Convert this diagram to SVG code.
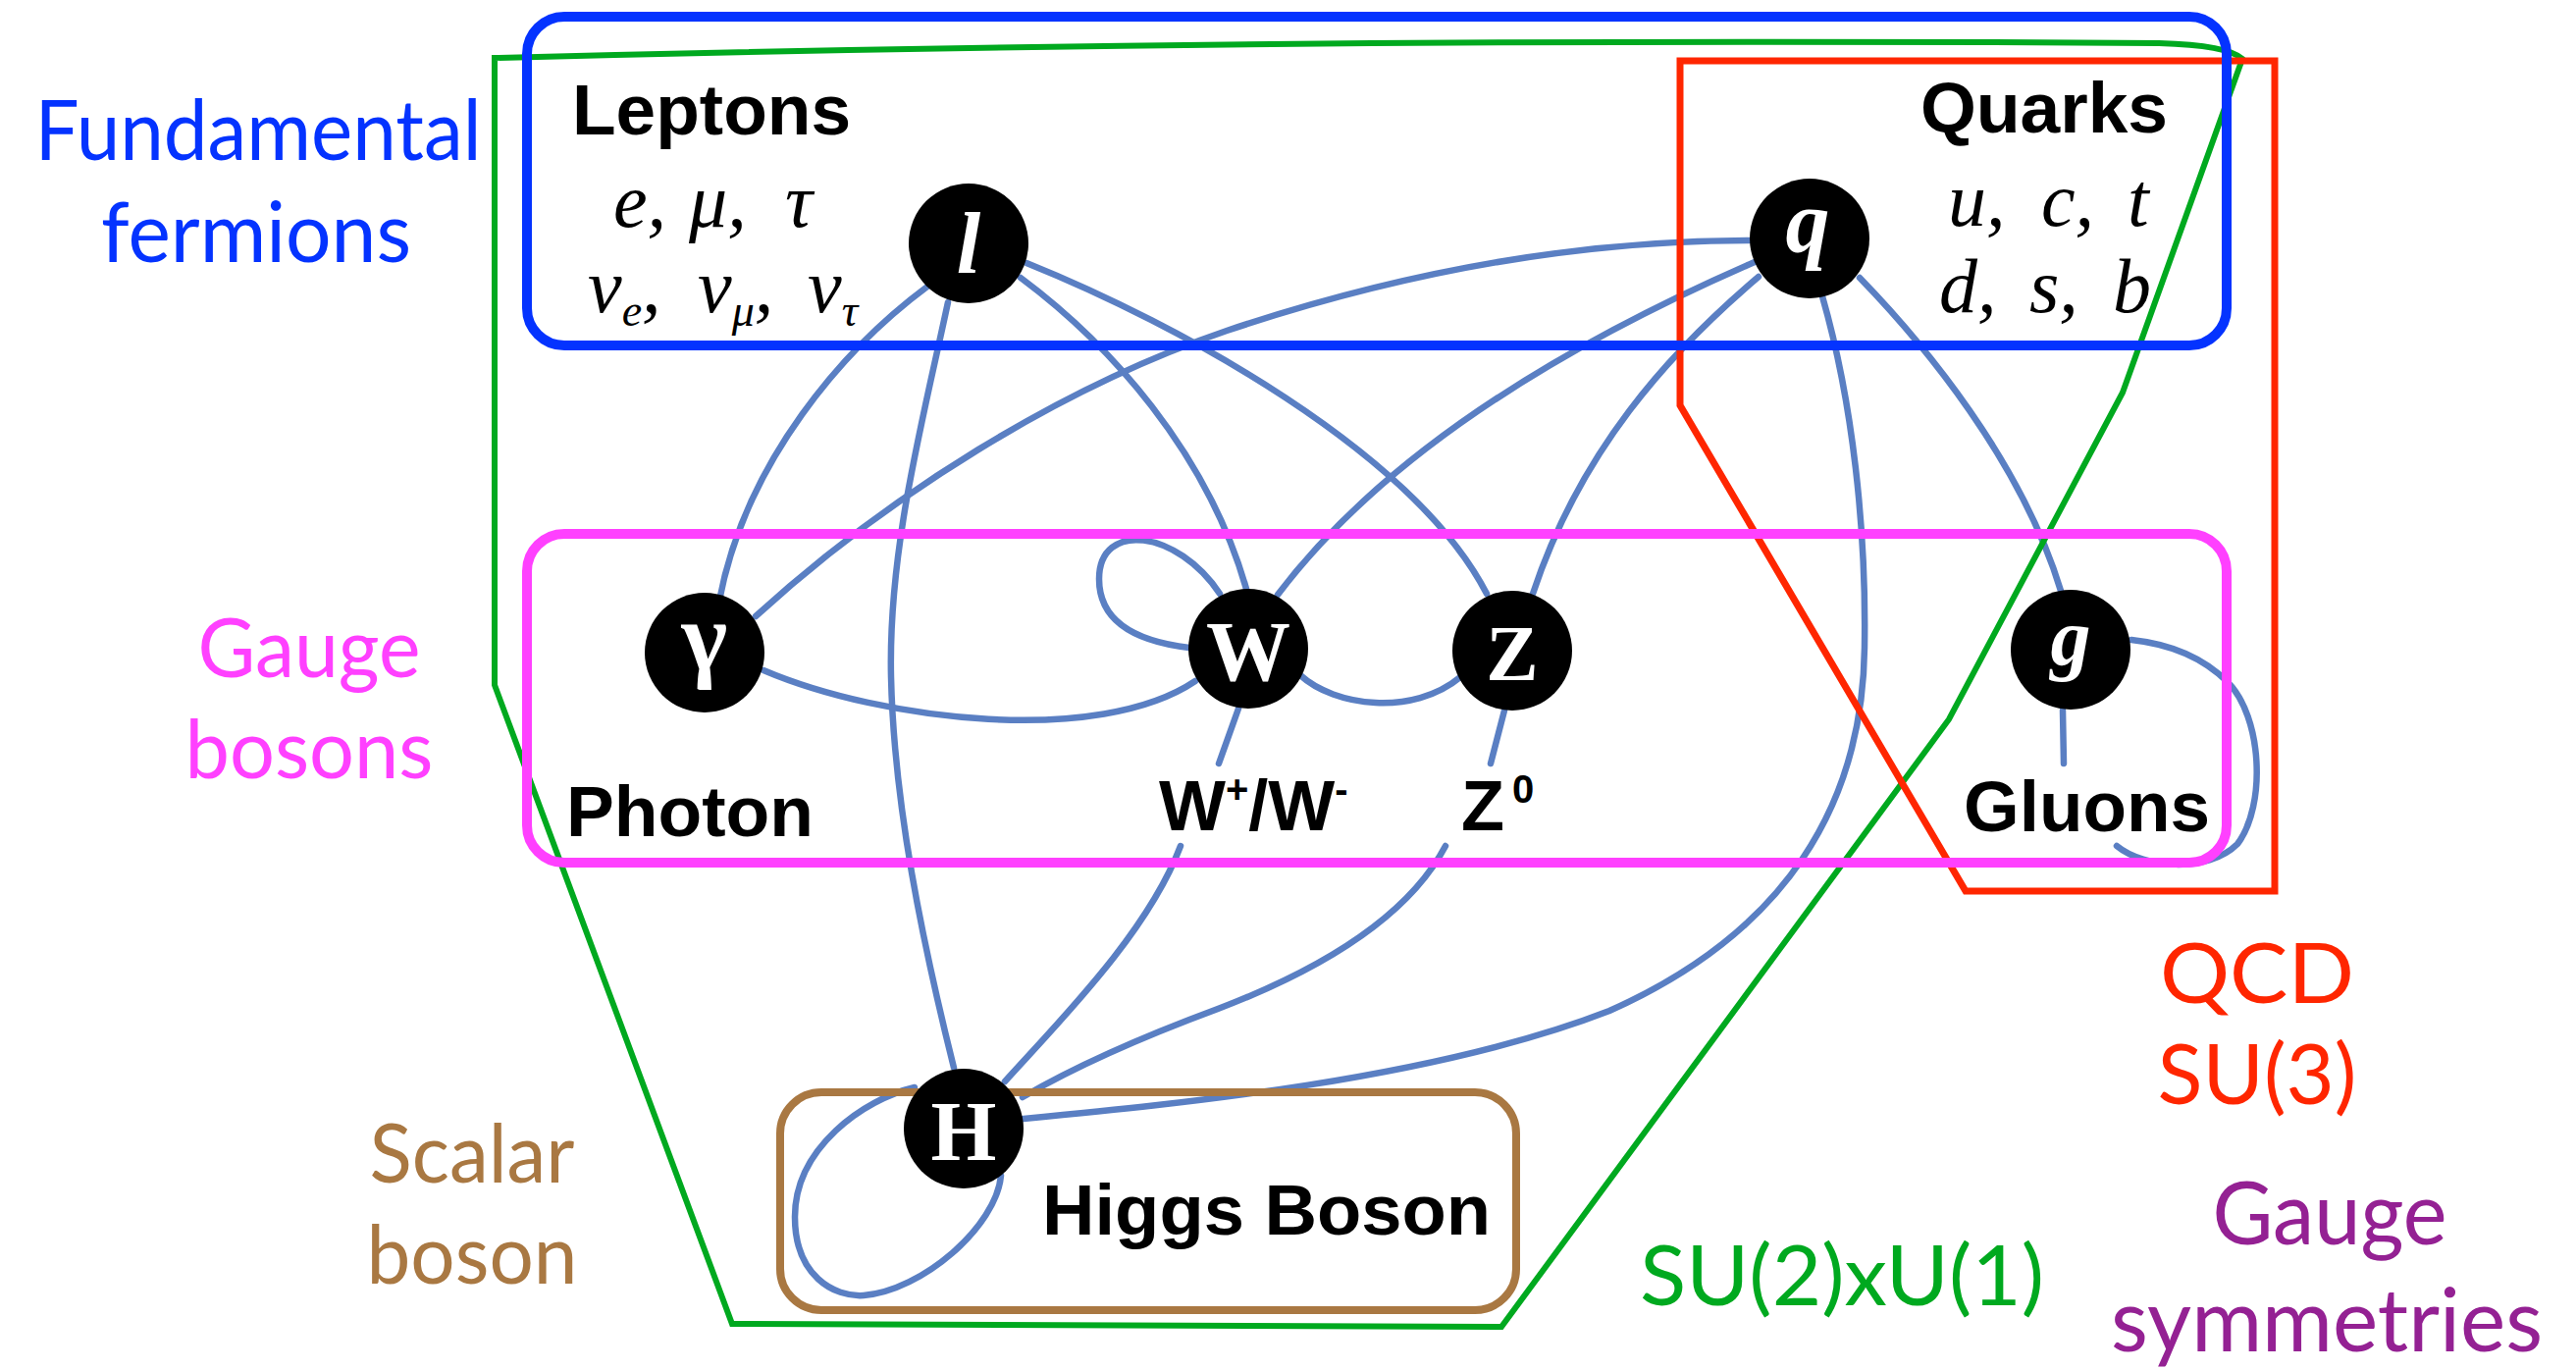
<svg xmlns="http://www.w3.org/2000/svg" width="2625" height="1396" viewBox="0 0 2625 1396">
<style>
.edge{fill:none;stroke:#5a7fc3;stroke-width:6.5;stroke-linecap:round}
.node{fill:#000}
.nl{fill:#fff;font-family:"Liberation Serif",serif;font-weight:bold;text-anchor:middle}
.lbl{fill:#000;font-family:"Liberation Sans",Arial,sans-serif;font-weight:bold;font-size:72px}
.it{fill:#000;font-family:"Liberation Serif",serif;font-style:italic;font-size:78px}
.sub{font-size:46px}
.gs{font-family:Lato,"Open Sans",sans-serif;text-anchor:middle}
</style>
<rect width="2625" height="1396" fill="#fff"/>
<g id="connectors">
<path class="edge" d="M945,292 C860,355 760,470 733,612"/>
<path class="edge" d="M966,308 C940,430 905,560 908,690 C911,820 940,960 972,1088"/>
<path class="edge" d="M1040,283 C1130,350 1230,460 1270,600"/>
<path class="edge" d="M1046,268 C1200,330 1440,460 1515,605"/>
<path class="edge" d="M1783,245 C1600,245 1420,280 1250,337 C1080,395 905,505 770,628"/>
<path class="edge" d="M1788,267 C1620,340 1420,450 1302,606"/>
<path class="edge" d="M1792,282 C1700,360 1610,460 1562,605"/>
<path class="edge" d="M1857,302 C1888,410 1902,540 1900,660 C1898,820 1820,950 1640,1030 C1460,1100 1200,1125 1043,1140"/>
<path class="edge" d="M1895,283 C1960,350 2060,470 2100,602"/>
<path class="edge" d="M778,683 C900,735 1120,760 1218,694"/>
<path class="edge" d="M1243,605 C1200,540 1120,530 1120,590 C1120,640 1170,655 1212,660"/>
<path class="edge" d="M1325,688 C1360,720 1440,730 1488,690"/>
<path class="edge" d="M1262,722 L1242,778"/>
<path class="edge" d="M1203,862 C1170,950 1080,1040 1024,1102"/>
<path class="edge" d="M1533,724 L1519,778"/>
<path class="edge" d="M1473,862 C1445,915 1380,975 1241,1028 C1160,1058 1090,1090 1042,1118"/>
<path class="edge" d="M932,1108 C880,1120 810,1170 810,1240 C810,1300 850,1322 880,1320 C940,1315 1015,1250 1020,1198"/>
<path class="edge" d="M2102,724 L2103,778"/>
<path class="edge" d="M2157,862 C2185,885 2250,890 2280,860 C2310,820 2305,730 2270,695 C2240,665 2200,655 2172,652"/>
</g>
<g id="groups" fill="none">
<path id="su2u1-region" d="M504,59 Q1300,38 2200,44 Q2270,46 2285,60 L2163,400 L1986,733 L1530,1352 L746,1349 L504,698 Z" stroke="#00a91f" stroke-width="6" stroke-linejoin="miter"/>
<path id="qcd-region" d="M1712,62 L2318,62 L2318,908 L2003,908 L1712,413 Z" stroke="#ff2600" stroke-width="7"/>
<rect id="fermions-box" x="537" y="17" width="1732" height="335" rx="38" stroke="#0433ff" stroke-width="10"/>
<rect id="gauge-box" x="537" y="544" width="1732" height="335" rx="38" stroke="#ff40ff" stroke-width="10"/>
<rect id="scalar-box" x="795" y="1113" width="750" height="222" rx="42" stroke="#a97842" stroke-width="8"/>
</g>
<g id="node-l"><circle class="node" cx="987" cy="248" r="61"/><text class="nl" x="987" y="278" font-size="88" font-style="italic">l</text></g>
<g id="node-q"><circle class="node" cx="1844" cy="243" r="61"/><text class="nl" x="1842" y="257" font-size="90" font-style="italic">q</text></g>
<g id="node-gamma"><circle class="node" cx="718" cy="665" r="61"/><text class="nl" x="718" y="682" font-size="100">γ</text></g>
<g id="node-W"><circle class="node" cx="1272" cy="661" r="61"/><text class="nl" x="1272" y="693" font-size="86">W</text></g>
<g id="node-Z"><circle class="node" cx="1541" cy="663" r="61"/><text class="nl" x="1541" y="693" font-size="80">Z</text></g>
<g id="node-g"><circle class="node" cx="2110" cy="662" r="61"/><text class="nl" x="2110" y="677" font-size="82" font-style="italic">g</text></g>
<g id="node-H"><circle class="node" cx="982" cy="1150" r="61"/><text class="nl" x="982" y="1182" font-size="86">H</text></g>
<g id="labels">
<text class="lbl" x="583" y="137" textLength="284" lengthAdjust="spacingAndGlyphs">Leptons</text>
<text class="it" y="231"><tspan x="625">e,</tspan><tspan x="702">μ,</tspan><tspan x="800">τ</tspan></text>
<text class="it" y="318"><tspan x="599">ν</tspan><tspan class="sub" dy="14">e</tspan><tspan dy="-14">,</tspan><tspan x="711">ν</tspan><tspan class="sub" dy="14">μ</tspan><tspan dy="-14">,</tspan><tspan x="823">ν</tspan><tspan class="sub" dy="14">τ</tspan></text>
<text class="lbl" x="1957" y="135" textLength="252" lengthAdjust="spacingAndGlyphs">Quarks</text>
<text class="it" y="230"><tspan x="1985">u,</tspan><tspan x="2080">c,</tspan><tspan x="2168">t</tspan></text>
<text class="it" y="318"><tspan x="1976">d,</tspan><tspan x="2068">s,</tspan><tspan x="2153">b</tspan></text>
<text class="lbl" x="577" y="852" textLength="252" lengthAdjust="spacingAndGlyphs">Photon</text>
<text class="lbl" x="1181" y="846">W<tspan font-size="40" dy="-28">+</tspan><tspan dy="28">/W</tspan><tspan font-size="40" dy="-28">-</tspan></text>
<text class="lbl" x="1489" y="846">Z<tspan font-size="40" dx="8" dy="-28">0</tspan></text>
<text class="lbl" x="2001" y="847" textLength="251" lengthAdjust="spacingAndGlyphs">Gluons</text>
<text class="lbl" x="1062" y="1258" textLength="457" lengthAdjust="spacingAndGlyphs">Higgs Boson</text>
</g>
<g id="legend">
<text class="gs" fill="#0433ff" font-size="85"><tspan x="263" y="163" textLength="455" lengthAdjust="spacingAndGlyphs">Fundamental</tspan><tspan x="261" y="267" textLength="316" lengthAdjust="spacingAndGlyphs">fermions</tspan></text>
<text class="gs" fill="#ff40ff" font-size="84"><tspan x="315" y="690" textLength="227" lengthAdjust="spacingAndGlyphs">Gauge</tspan><tspan x="315" y="793" textLength="253" lengthAdjust="spacingAndGlyphs">bosons</tspan></text>
<text class="gs" fill="#a97842" font-size="84"><tspan x="481" y="1205" textLength="209" lengthAdjust="spacingAndGlyphs">Scalar</tspan><tspan x="481" y="1308" textLength="215" lengthAdjust="spacingAndGlyphs">boson</tspan></text>
<text class="gs" fill="#ff2600" font-size="86"><tspan x="2300" y="1022" textLength="198" lengthAdjust="spacingAndGlyphs">QCD</tspan><tspan x="2300" y="1125" textLength="203" lengthAdjust="spacingAndGlyphs">SU(3)</tspan></text>
<text class="gs" fill="#00a91f" font-size="86" x="1877" y="1330" textLength="412" lengthAdjust="spacingAndGlyphs">SU(2)xU(1)</text>
<text class="gs" fill="#942193" font-size="90"><tspan x="2374" y="1268" textLength="239" lengthAdjust="spacingAndGlyphs">Gauge</tspan><tspan x="2371" y="1377" textLength="440" lengthAdjust="spacingAndGlyphs">symmetries</tspan></text>
</g>
</svg>
